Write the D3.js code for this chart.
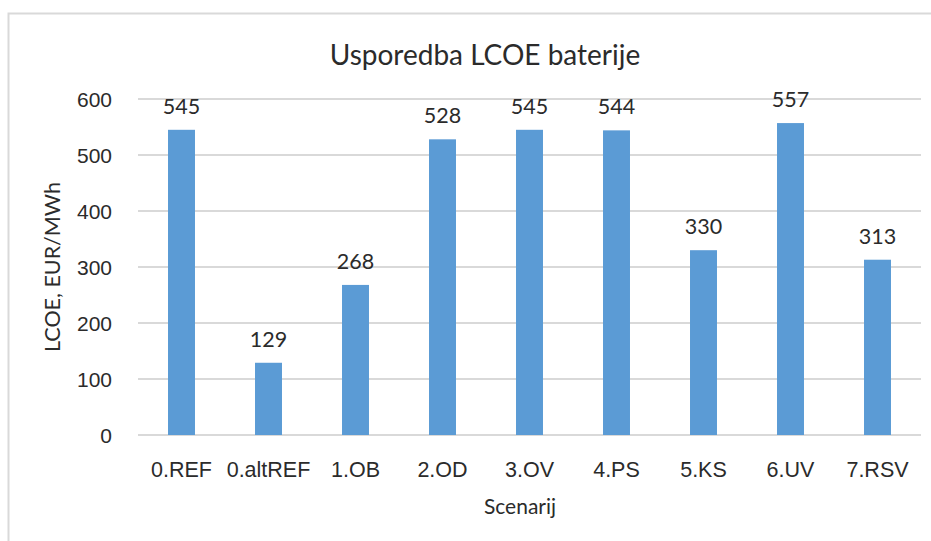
<!DOCTYPE html>
<html>
<head>
<meta charset="utf-8">
<script src="https://cdn.jsdelivr.net/npm/d3@7"></script>
<style>
  html, body { margin: 0; padding: 0; background: #fff; }
  svg { display: block; font-family: Lato, "Open Sans", sans-serif; }
</style>
</head>
<body>
<svg id="chart" width="931" height="541"></svg>
<script>
// Battery LCOE by scenario (EUR/MWh)
const scenarios = ["0.REF", "0.altREF", "1.OB", "2.OD", "3.OV", "4.PS", "5.KS", "6.UV", "7.RSV"];
const lcoe = [545, 129, 268, 528, 545, 544, 330, 557, 313];
const yTicks = [0, 100, 200, 300, 400, 500, 600];

const chartTitle = "Usporedba LCOE baterije";
const yTitle = "LCOE, EUR/MWh";
const xTitle = "Scenarij";

const svg = d3.select("#chart");
const textColor = "#2b2b2b";
const gridColor = "#d9d9d9";
const barColor = "#5b9bd5";

// outer chart frame
svg.append("rect")
  .attr("x", 8.5).attr("y", 13.5)
  .attr("width", 960).attr("height", 560)
  .attr("fill", "none").attr("stroke", gridColor).attr("stroke-width", 2);

const plot = { left: 138, right: 921, top: 99, bottom: 435 };

const x = d3.scaleBand().domain(scenarios).range([plot.left, plot.right]).paddingInner(0.69).paddingOuter(0.345);
const y = d3.scaleLinear().domain([0, 600]).range([plot.bottom, plot.top]);

// horizontal gridlines
svg.append("g").selectAll("line").data(yTicks).join("line")
  .attr("x1", plot.left).attr("x2", plot.right)
  .attr("y1", d => y(d)).attr("y2", d => y(d))
  .attr("stroke", gridColor).attr("stroke-width", 2);

// y axis tick labels
const yAxis = d3.axisLeft(y).tickValues(yTicks).tickSize(0).tickPadding(0);
const gy = svg.append("g").attr("transform", `translate(${plot.left - 26},0)`).call(yAxis);
gy.select(".domain").remove();
gy.selectAll("text").attr("fill", textColor).style("font-size", "21px").attr("dy", "0.35em");

// bars
svg.append("g").selectAll("rect").data(lcoe).join("rect")
  .attr("x", (d, i) => x(scenarios[i]))
  .attr("width", x.bandwidth())
  .attr("y", d => y(d))
  .attr("height", d => y(0) - y(d))
  .attr("fill", barColor);

// value labels
svg.append("g").selectAll("text").data(lcoe).join("text")
  .attr("x", (d, i) => x(scenarios[i]) + x.bandwidth() / 2)
  .attr("y", d => y(d) - 16)
  .attr("text-anchor", "middle")
  .attr("fill", textColor)
  .style("font-size", "21.5px")
  .text(d => d);

// x axis category labels
const xAxis = d3.axisBottom(x).tickSize(0).tickPadding(0);
const gx = svg.append("g").attr("transform", `translate(0,${plot.bottom + 42})`).call(xAxis);
gx.select(".domain").remove();
gx.selectAll("text").attr("fill", textColor).style("font-size", "21.5px").attr("dy", "0");

// titles
svg.append("text").attr("x", 485).attr("y", 65).attr("text-anchor", "middle")
  .attr("fill", textColor).style("font-size", "28px").text(chartTitle);

svg.append("text").attr("x", 520).attr("y", 514).attr("text-anchor", "middle")
  .attr("fill", textColor).style("font-size", "21px").text(xTitle);

svg.append("text")
  .attr("transform", `translate(60,${(plot.top + plot.bottom) / 2}) rotate(-90)`)
  .attr("text-anchor", "middle")
  .attr("fill", textColor).style("font-size", "21.5px").text(yTitle);
</script>
</body>
</html>
